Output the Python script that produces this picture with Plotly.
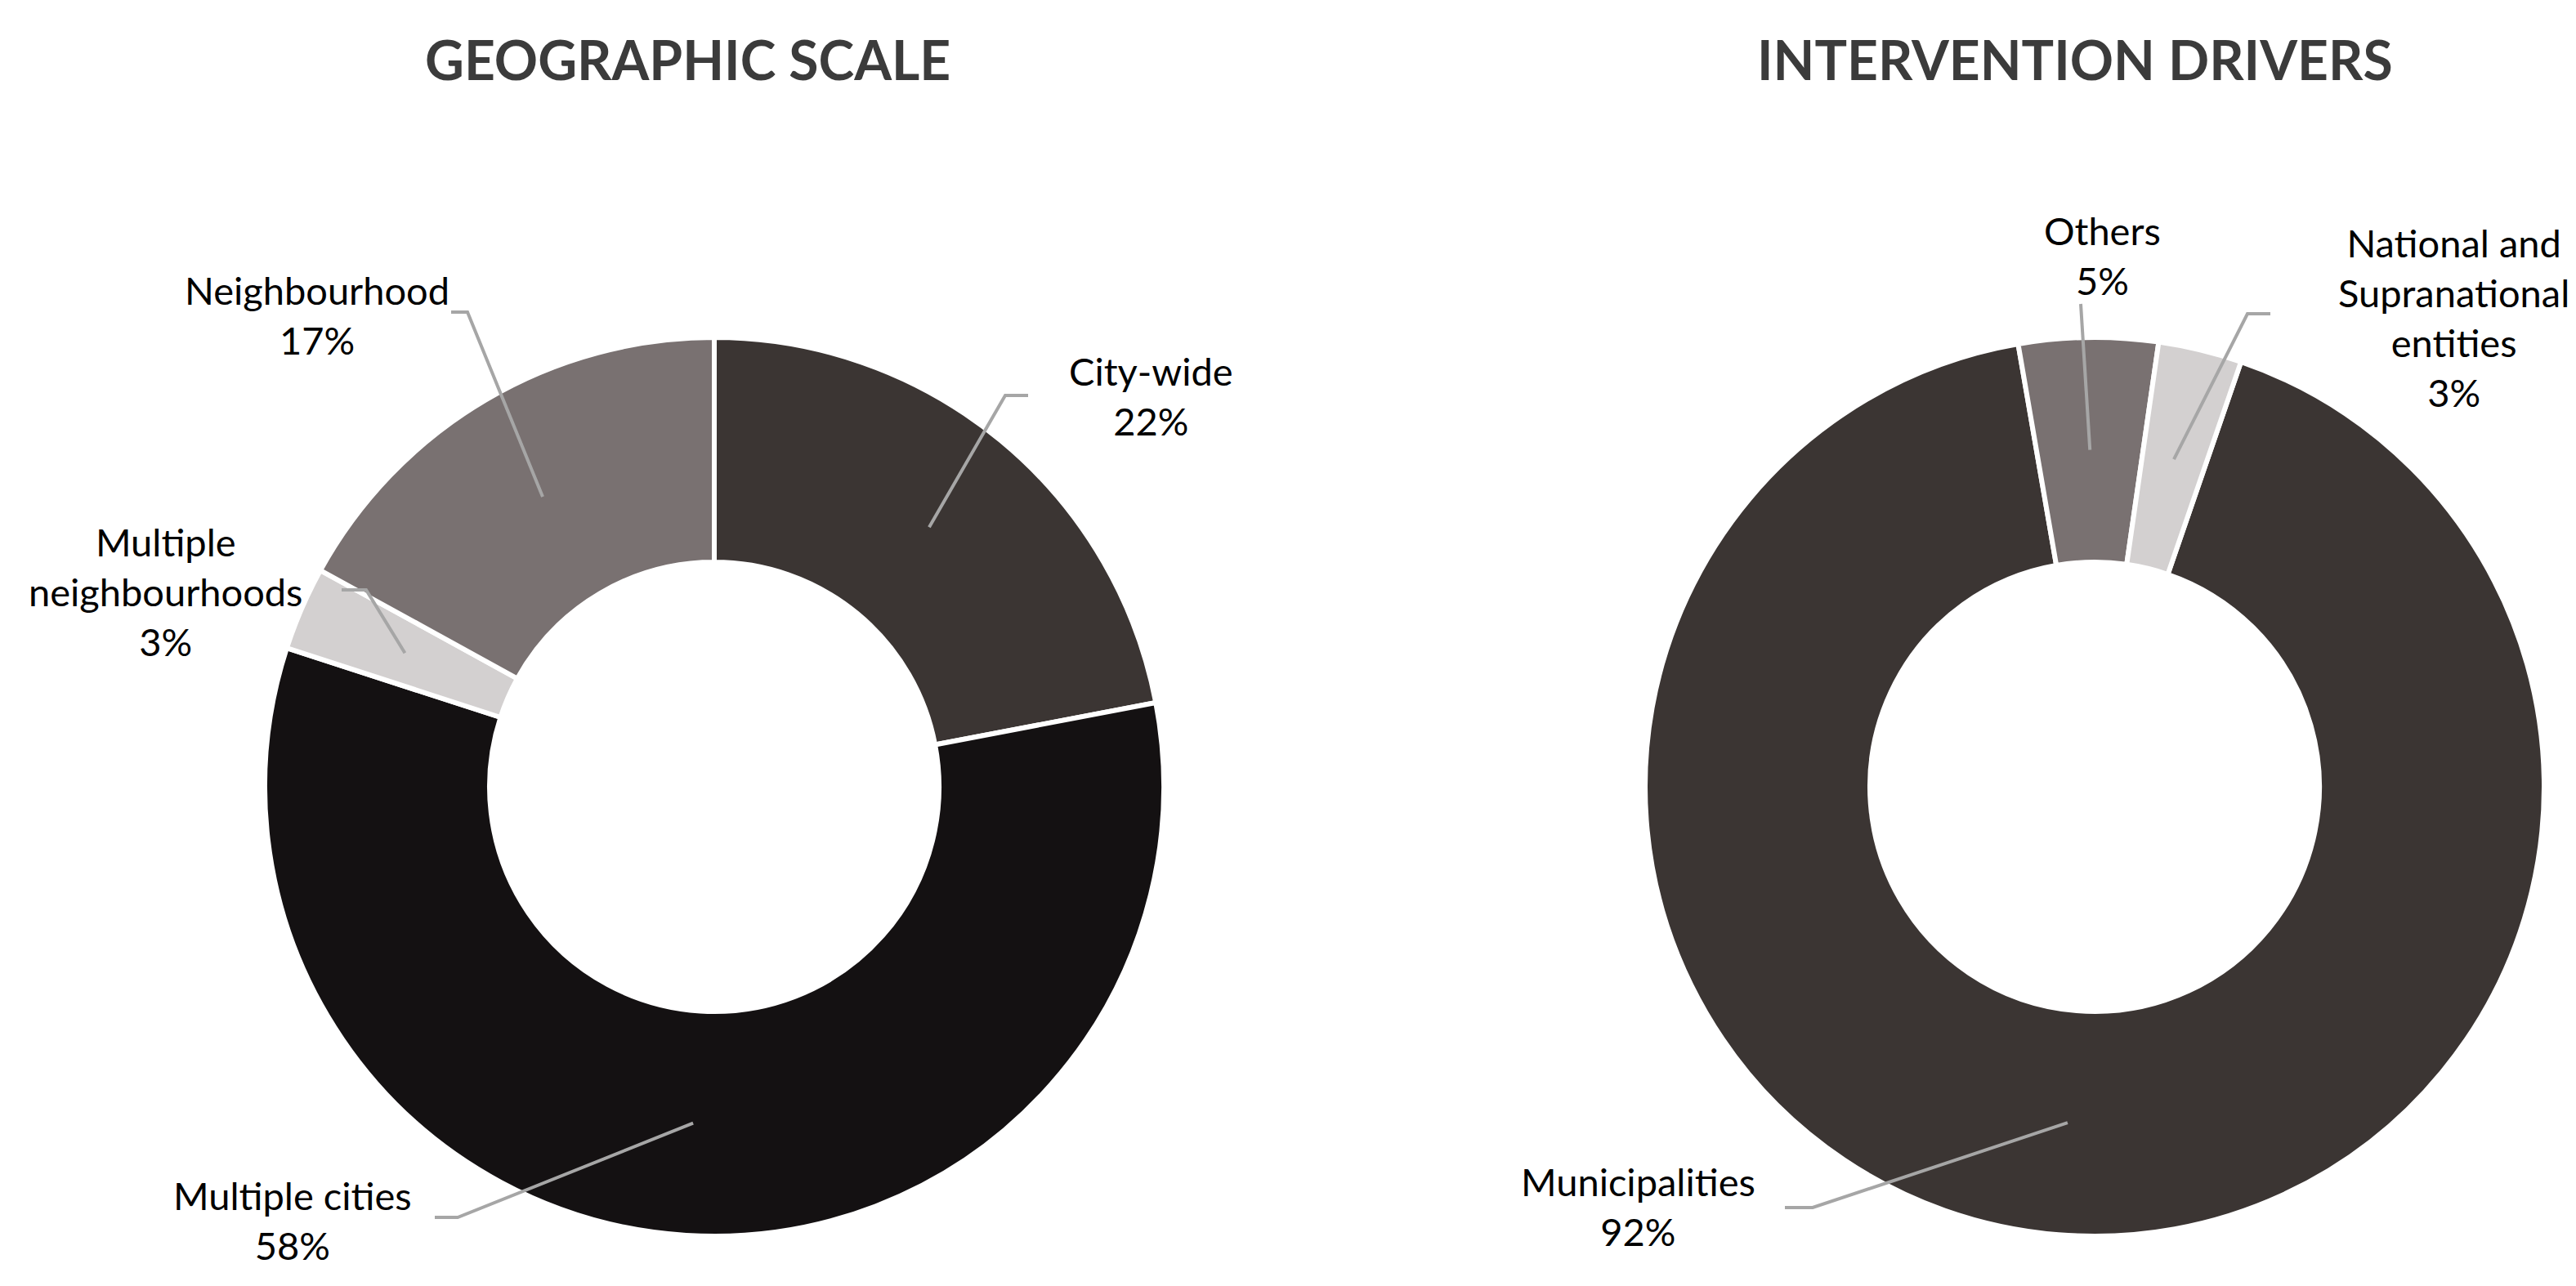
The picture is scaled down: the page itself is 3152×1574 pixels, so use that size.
import math
import plotly.graph_objects as go

W, H = 3152, 1574

# data
scale_labels = ['City-wide', 'Multiple cities', 'Multiple<br>neighbourhoods', 'Neighbourhood']
scale_values = [22, 58, 3, 17]
scale_colors = ['#3b3533', '#141112', '#d3d0d0', '#797171']

driver_labels = ['Municipalities', 'Others', 'National and<br>Supranational<br>entities']
driver_values = [92, 5, 3]
driver_colors = ['#3b3533', '#797171', '#d3d0d0']

titles = ['GEOGRAPHIC SCALE', 'INTERVENTION DRIVERS']

# layout in pixels (center x, center y, radius, rotation)
R = 550
HOLE = 0.5
pies = [
    dict(cx=866, cy=955, rot=0, title_x=833),
    dict(cx=2555, cy=955, rot=19, title_x=2531),
]
# label text center, leader tail start, leader corner (pixels)
scale_lab_pos = [((1400, 476), (1250, 476), (1222, 476)),
                 ((350, 1485), (524, 1482), (552, 1482)),
                 ((194, 716), (410, 714), (440, 714)),
                 ((380, 378), (544, 374), (564, 374))]
driver_lab_pos = [((1996, 1468), (2176, 1470), (2210, 1470)),
                  ((2564, 304), (2538, 364), (2538, 364)),
                  ((2994, 380), (2770, 376), (2742, 376))]


def px(x):
    return x / W


def py(y):
    return 1 - y / H


fig = go.Figure()
shapes = []
annotations = []

sets = [(scale_labels, scale_values, scale_colors, scale_lab_pos),
        (driver_labels, driver_values, driver_colors, driver_lab_pos)]

for p, (labels, values, colors, lab_pos), title in zip(pies, sets, titles):
    cx, cy = p['cx'], p['cy']
    fig.add_trace(go.Pie(
        labels=labels, values=values, hole=HOLE, sort=False,
        direction='clockwise', rotation=p['rot'],
        marker=dict(colors=colors, line=dict(color='white', width=6)),
        textinfo='none', hoverinfo='label+percent', showlegend=False,
        domain=dict(x=[px(cx - R), px(cx + R)], y=[py(cy + R), py(cy - R)]),
    ))

    total = sum(values)
    cum = 0
    r_mid = R * (1 + HOLE) / 2
    for lab, v, (txt, tail, corner) in zip(labels, values, lab_pos):
        mid = (cum + v / 2) / total
        cum += v
        ang = math.radians(p['rot'] + mid * 360)
        ex = cx + r_mid * math.sin(ang)
        ey = cy - r_mid * math.cos(ang)
        shapes.append(dict(
            type='path', xref='paper', yref='paper',
            path='M %f %f L %f %f L %f %f' % (px(tail[0]), py(tail[1]), px(corner[0]), py(corner[1]), px(ex), py(ey)),
            line=dict(color='#a6a6a6', width=4),
        ))
        annotations.append(dict(
            x=px(txt[0]), y=py(txt[1]), xref='paper', yref='paper',
            text=lab + '<br>' + str(round(100 * v / total)) + '%',
            showarrow=False, xanchor='center', yanchor='middle',
            font=dict(family='Lato', size=47, color='#000000'),
        ))

    annotations.append(dict(
        x=px(p['title_x']), y=py(64), xref='paper', yref='paper',
        text='<b>' + title + '</b>', showarrow=False,
        xanchor='center', yanchor='middle',
        font=dict(family='Lato', size=66, color='#3b3b3b'),
    ))

fig.update_layout(
    width=W, height=H,
    margin=dict(l=0, r=0, t=0, b=0),
    paper_bgcolor='white', plot_bgcolor='white',
    shapes=shapes, annotations=annotations,
)

fig.write_html("out.html")
